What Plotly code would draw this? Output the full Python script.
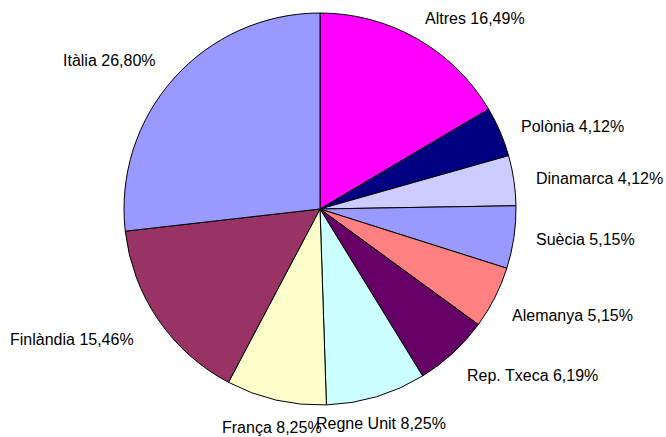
import math
import plotly.graph_objects as go

# pie slices, clockwise from 12 o'clock
countries = ["Altres", "Polònia", "Dinamarca", "Suècia", "Alemanya",
             "Rep. Txeca", "Regne Unit", "França", "Finlàndia", "Itàlia"]
shares = [16.49, 4.12, 4.12, 5.15, 5.15, 6.19, 8.25, 8.25, 15.46, 26.80]
colors = ["#FF00FF", "#000080", "#CCCCFF", "#9999FF", "#FF8080",
          "#660066", "#CCFFFF", "#FFFFCC", "#993366", "#9999FF"]

W, H = 666, 437
CX, CY, R = 320, 209, 196   # pie centre / radius in pixels

fig = go.Figure(go.Pie(
    labels=countries,
    values=shares,
    sort=False,
    direction="clockwise",
    rotation=0,
    marker=dict(colors=colors, line=dict(color="black", width=1)),
    textinfo="none",
    hoverinfo="label+value",
    domain=dict(x=[(CX - R) / W, (CX + R) / W],
                y=[1 - (CY + R) / H, 1 - (CY - R) / H]),
))

# labels outside the pie, excel style (no leader lines)
total = sum(shares)
cum = 0
for name, v in zip(countries, shares):
    mid = (cum + v / 2) / total * 2 * math.pi
    cum += v
    s, c = math.sin(mid), math.cos(mid)
    xa = "left" if s > 0.3 else ("right" if s < -0.3 else "center")
    if c > 0.42:
        ya, r = "bottom", R + 11
    elif c < -0.42:
        ya, r = "top", R + 17
    else:
        ya, r = "middle", R + 14
    px_ = CX + r * s
    py_ = CY - r * c
    if ya == "middle":
        px_ += 6 if s > 0 else -6
    if xa == "right":
        px_ -= 8
    txt = f"{name} " + f"{v:.2f}".replace(".", ",") + "%"
    fig.add_annotation(
        x=px_ / W, y=1 - py_ / H, xref="paper", yref="paper",
        text=txt, showarrow=False, xanchor=xa, yanchor=ya,
        font=dict(family="Liberation Sans, Arial, sans-serif", size=16, color="black"),
    )

fig.update_layout(
    width=W, height=H,
    margin=dict(l=0, r=0, t=0, b=0),
    paper_bgcolor="white",
    plot_bgcolor="white",
    showlegend=False,
)

fig.write_html("out.html", config={"displayModeBar": False},
               post_script="document.body.style.margin='0';")
